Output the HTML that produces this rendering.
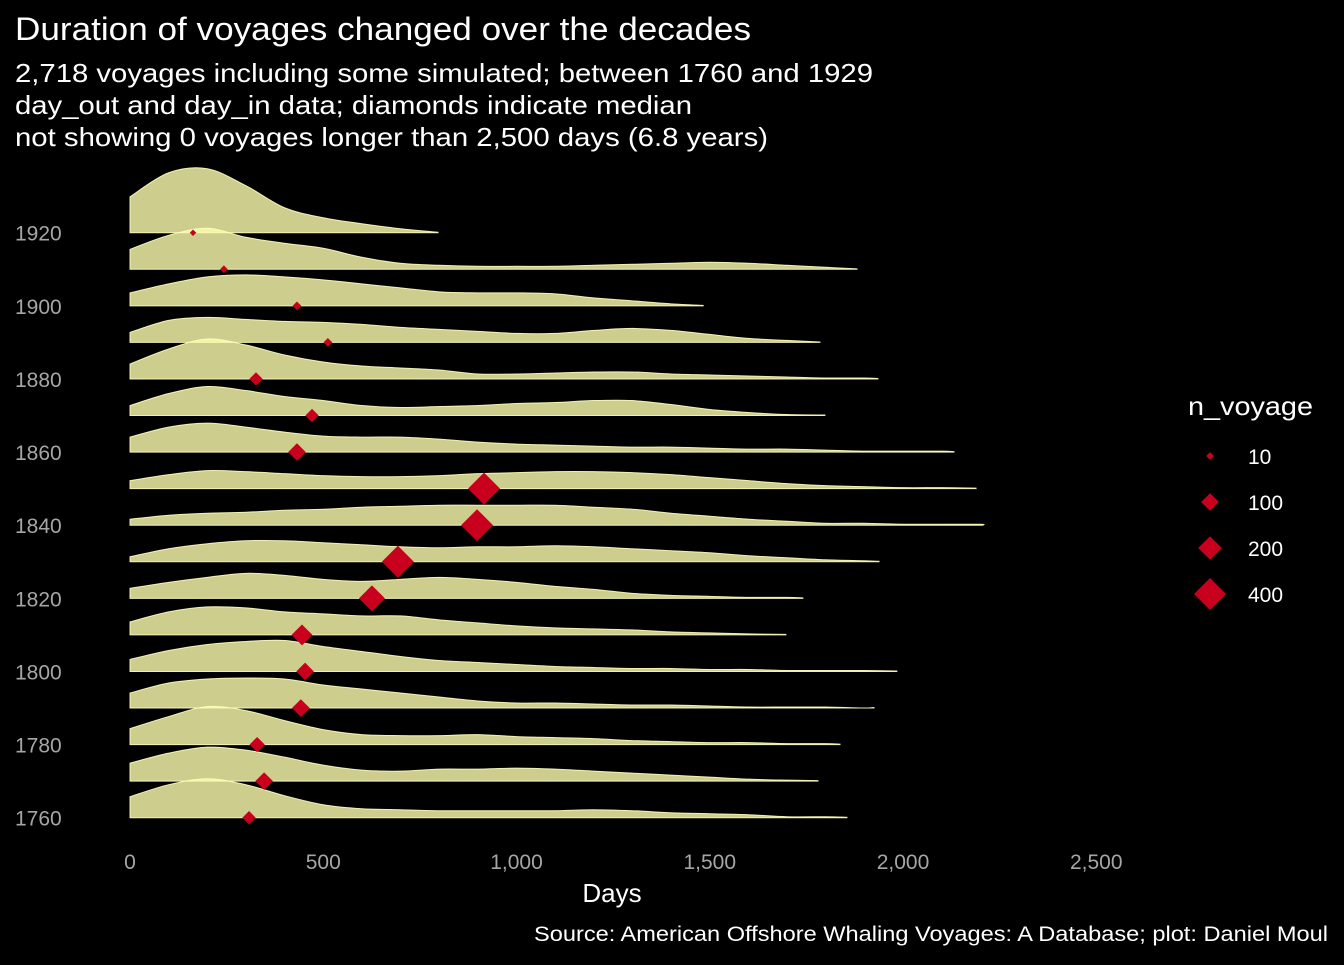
<!DOCTYPE html>
<html><head><meta charset="utf-8"><style>
html,body{margin:0;padding:0;background:#000;}
svg text{font-family:"Liberation Sans",Arial,sans-serif;}
</style></head><body>
<svg id="chart" width="1344" height="960" viewBox="0 0 1344 960" xmlns="http://www.w3.org/2000/svg">
<rect width="1344" height="960" fill="#000"/>
<text x="15" y="40" fill="#fff" font-size="32" textLength="736" lengthAdjust="spacingAndGlyphs">Duration of voyages changed over the decades</text>
<text x="15" y="82" fill="#fff" font-size="26" textLength="858" lengthAdjust="spacingAndGlyphs">2,718 voyages including some simulated; between 1760 and 1929</text>
<text x="15" y="114" fill="#fff" font-size="26" textLength="677" lengthAdjust="spacingAndGlyphs">day_out and day_in data; diamonds indicate median</text>
<text x="15" y="146" fill="#fff" font-size="26" textLength="753" lengthAdjust="spacingAndGlyphs">not showing 0 voyages longer than 2,500 days (6.8 years)</text>
<g id="ridges"></g>
<g id="medians"></g>
<g id="yaxis"></g>
<g id="xaxis"></g>
<text x="612" y="902" fill="#fff" font-size="26" text-anchor="middle">Days</text>
<text x="1328" y="941" fill="#fff" font-size="21" text-anchor="end" textLength="794" lengthAdjust="spacingAndGlyphs">Source: American Offshore Whaling Voyages: A Database; plot: Daniel Moul</text>
<g id="legend">
<text x="1188" y="415" fill="#fff" font-size="26" textLength="125" lengthAdjust="spacingAndGlyphs">n_voyage</text>
</g>
</svg>
<script>
const decades = [1760,1770,1780,1790,1800,1810,1820,1830,1840,1850,1860,1870,1880,1890,1900,1910,1920];
// density heights (px) sampled every 100 days from day 0
const dens1760 = [21,33,39,33,22,13,9,8,7,7,7,7,8,7,5,4,3,1,1];
const dens1770 = [18,28,34,31,24,16,11,10,12,12,13,12,10,8,6,4,2,1];
const dens1780 = [16,28,38,34,24,15,10,9,9,10,8,7,6,4,3,2,2,1,1];
const dens1790 = [15,25,29,30,29,23,19,15,11,7,5,5,4,3,3,2,1,1,1,0];
const dens1800 = [12,21,27,30,31,25,20,15,11,9,7,5,4,3,3,2,2,1,1,1];
const dens1810 = [13,23,28,27,23,21,19,19,15,12,9,7,6,5,3,2,1];
const dens1820 = [10,16,21,25,23,19,17,19,21,19,16,12,9,5,3,2,1,1];
const dens1830 = [5,13,18,21,21,19,17,15,14,15,15,16,15,13,11,9,6,4,2,1];
const dens1840 = [6,10,12,13,15,16,18,19,20,20,20,20,18,16,12,9,6,4,2,2,1,1,1];
const dens1850 = [8,14,18,17,15,13,12,12,13,15,16,17,17,16,14,11,8,5,3,2,1,1];
const dens1860 = [15,25,29,25,20,16,15,15,13,10,8,7,6,5,5,4,3,3,2,1,1,1];
const dens1870 = [10,22,29,25,19,15,10,8,9,10,12,13,15,15,11,6,3,1];
const dens1880 = [15,30,40,34,24,17,13,11,9,5,5,6,7,7,5,4,3,2,1,1];
const dens1890 = [10,22,25,23,21,20,18,15,13,11,9,9,12,14,12,8,4,2];
const dens1900 = [13,22,29,31,29,26,22,18,14,13,13,12,8,5,2];
const dens1910 = [20,34,41,32,26,21,12,6,4,3,3,3,4,5,6,7,6,4,2];
const dens1920 = [36,60,64,47,25,15,9,4];
const densities = [dens1760,dens1770,dens1780,dens1790,dens1800,dens1810,dens1820,dens1830,dens1840,dens1850,dens1860,dens1870,dens1880,dens1890,dens1900,dens1910,dens1920];
const maxDays = [1855,1780,1837,1925,1984,1697,1741,1938,2207,2189,2132,1798,1935,1785,1483,1881,797];
const medianDays = [308,347,329,442,453,445,626,693,898,916,432,471,326,512,432,243,163];
const nVoyage = [50,100,70,100,100,150,250,400,400,400,100,50,50,15,15,10,5];
const xTicks = [0,500,1000,1500,2000,2500];
const xTickLabels = ["0","500","1,000","1,500","2,000","2,500"];
const yTickDecades = [1760,1780,1800,1820,1840,1860,1880,1900,1920];
const legendValues = [10,100,200,400];

const NS = "http://www.w3.org/2000/svg";
const xScale = d => 130 + d * 0.3865;
const yScale = dec => 817.7 - (dec - 1760) / 10 * 36.56;
const sizeScale = n => 0.72 * Math.sqrt(n) + 1.6;

function diamond(cx, cy, r) {
  return `M${cx},${cy-r} L${cx+r},${cy} L${cx},${cy+r} L${cx-r},${cy} Z`;
}

const ridges = document.getElementById('ridges');
for (let i = decades.length - 1; i >= 0; i--) {
  const base = yScale(decades[i]);
  const pts = [];
  const d = densities[i];
  for (let k = 0; k < d.length; k++) {
    const day = k * 100;
    if (day >= maxDays[i]) break;
    pts.push([xScale(day), base - d[k]]);
  }
  pts.push([xScale(maxDays[i]), base - 0.5]);
  let p = `M${xScale(0)},${base} L${pts[0][0]},${pts[0][1]}`;
  for (let k = 0; k < pts.length - 1; k++) {
    const p0 = pts[Math.max(0,k-1)], p1 = pts[k], p2 = pts[k+1], p3 = pts[Math.min(pts.length-1,k+2)];
    const c1x = p1[0] + (p2[0]-p0[0])/6, c1y = p1[1] + (p2[1]-p0[1])/6;
    const c2x = p2[0] - (p3[0]-p1[0])/6, c2y = p2[1] - (p3[1]-p1[1])/6;
    p += ` C${c1x},${c1y} ${c2x},${c2y} ${p2[0]},${p2[1]}`;
  }
  p += ` L${xScale(maxDays[i])},${base} Z`;
  const path = document.createElementNS(NS, 'path');
  path.setAttribute('d', p);
  path.setAttribute('fill', 'rgba(253,253,175,0.81)');
  path.setAttribute('stroke', 'rgba(255,255,190,0.9)');
  path.setAttribute('stroke-width', '1');
  
  
  ridges.appendChild(path);
}

const medians = document.getElementById('medians');
for (let i = 0; i < decades.length; i++) {
  const m = document.createElementNS(NS, 'path');
  m.setAttribute('d', diamond(xScale(medianDays[i]), yScale(decades[i]), sizeScale(nVoyage[i])));
  m.setAttribute('fill', '#c8001e');
  
  
  medians.appendChild(m);
}

const yaxis = document.getElementById('yaxis');
yTickDecades.forEach(dec => {
  const t = document.createElementNS(NS, 'text');
  t.setAttribute('x', 15);
  t.setAttribute('y', yScale(dec) + 8);
  t.setAttribute('fill', '#a6a6a6');
  t.setAttribute('font-size', '21');
  t.textContent = dec;
  
  
  yaxis.appendChild(t);
});

const xaxis = document.getElementById('xaxis');
xTicks.forEach((v, i) => {
  const t = document.createElementNS(NS, 'text');
  t.setAttribute('x', xScale(v));
  t.setAttribute('y', 869);
  t.setAttribute('fill', '#a6a6a6');
  t.setAttribute('font-size', '21');
  t.setAttribute('text-anchor', 'middle');
  t.textContent = xTickLabels[i];
  
  
  xaxis.appendChild(t);
});

const legend = document.getElementById('legend');
legendValues.forEach((v, i) => {
  const cy = 456 + i * 46;
  const m = document.createElementNS(NS, 'path');
  m.setAttribute('d', diamond(1210, cy, sizeScale(v)));
  m.setAttribute('fill', '#c8001e');
  
  
  legend.appendChild(m);
  const t = document.createElementNS(NS, 'text');
  t.setAttribute('x', 1248);
  t.setAttribute('y', cy + 8);
  t.setAttribute('fill', '#fff');
  t.setAttribute('font-size', '21');
  t.textContent = v;
  
  
  legend.appendChild(t);
});
</script>
</body></html>
